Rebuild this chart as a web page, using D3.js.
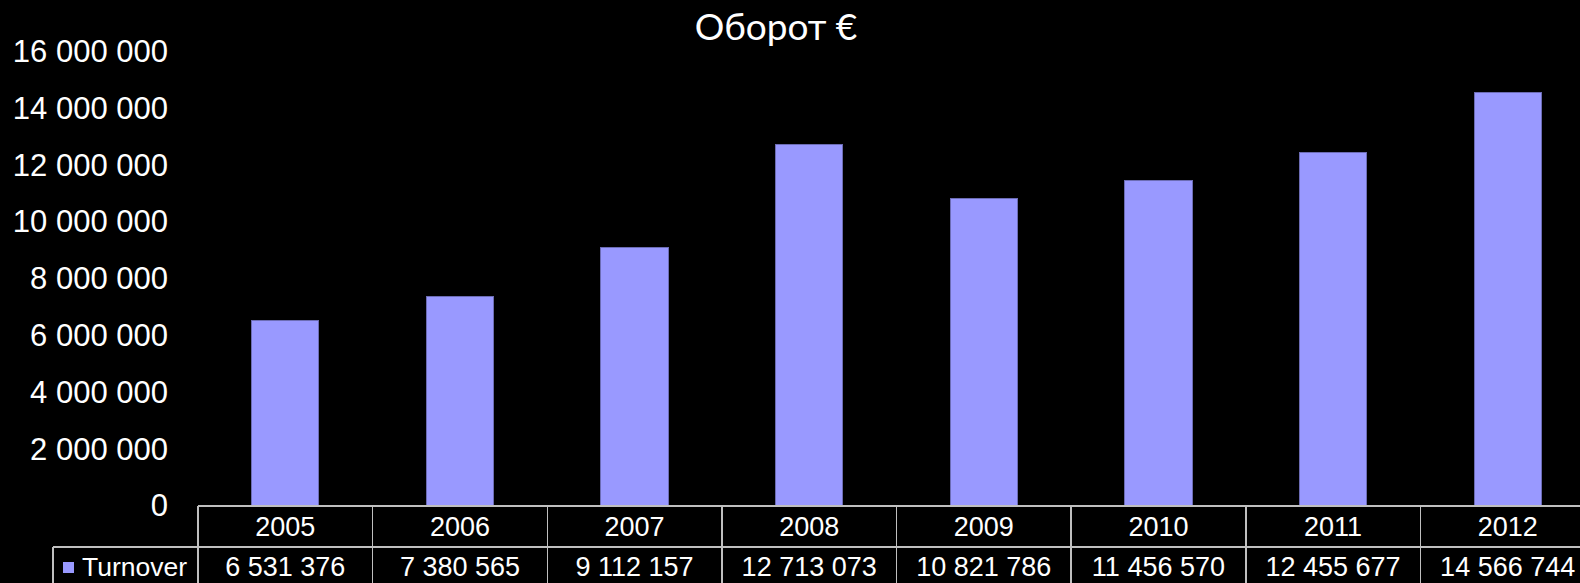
<!DOCTYPE html>
<html>
<head>
<meta charset="utf-8">
<script src="https://cdn.jsdelivr.net/npm/d3@7"></script>
<style>
  html, body { margin: 0; padding: 0; background: #000; overflow: hidden; }
</style>
</head>
<body>
<div id="chart"></div>
<script>
// data
let years = ["2005", "2006", "2007", "2008", "2009", "2010", "2011", "2012"];
let turnover = [6531376, 7380565, 9112157, 12713073, 10821786, 11456570, 12455677, 14566744];
let yTicks = [0, 2000000, 4000000, 6000000, 8000000, 10000000, 12000000, 14000000, 16000000];
let seriesName = "Turnover";
let title = "Оборот €";

let w = 1580;
let h = 583;
let left = 198;
let right = 1595;
let baseY = 506;
let topY = 51.6;
let rowY = 547;
let barColor = "#9999ff";
let lineColor = "#bfbfbf";

let ru = d3.formatLocale({decimal: ",", thousands: " ", grouping: [3], currency: ["", " €"]});
let fmt = ru.format(",d");

let svg = d3.select("#chart").append("svg")
    .attr("width", w)
    .attr("height", h)
    .style("background-color", "#000");

let x = d3.scaleBand()
    .domain(years)
    .range([left, right])
    .paddingInner(0.615)
    .paddingOuter(0.615 / 2);

let y = d3.scaleLinear()
    .domain([0, 16000000])
    .range([baseY, topY]);

// title
svg.append("text")
    .attr("x", 776)
    .attr("y", 40)
    .attr("text-anchor", "middle")
    .attr("fill", "#fff")
    .attr("font-family", "Lato, 'Open Sans', sans-serif")
    .attr("font-size", 37)
    .text(title);

// y axis labels
let yAxis = d3.axisLeft(y)
    .tickValues(yTicks)
    .tickFormat(fmt)
    .tickSize(0)
    .tickPadding(0);
let yg = svg.append("g")
    .attr("transform", "translate(168,0)")
    .call(yAxis);
yg.select(".domain").remove();
yg.selectAll("text")
    .attr("fill", "#fff")
    .attr("font-family", "'Liberation Sans', Arial, sans-serif")
    .attr("font-size", 31)
    .attr("dy", "0.32em");

// bars
svg.append("g")
    .selectAll("rect")
    .data(turnover)
    .join("rect")
    .attr("x", (d, i) => x(years[i]))
    .attr("width", x.bandwidth())
    .attr("y", d => y(d))
    .attr("height", d => baseY - y(d))
    .attr("fill", barColor)
    .attr("stroke", "#6c6cb4")
    .attr("stroke-width", 1)
    .attr("shape-rendering", "crispEdges");

// data table grid
let step = x.step();
let grid = svg.append("g")
    .attr("stroke", lineColor)
    .attr("stroke-width", 1.5)
    .attr("shape-rendering", "crispEdges");
grid.append("line").attr("x1", left).attr("x2", right).attr("y1", baseY).attr("y2", baseY);
grid.append("line").attr("x1", 53).attr("x2", right).attr("y1", rowY).attr("y2", rowY);
grid.append("line").attr("x1", 53).attr("x2", 53).attr("y1", rowY).attr("y2", h);
grid.selectAll(".col").data(d3.range(years.length + 1))
    .join("line")
    .attr("class", "col")
    .attr("x1", i => left + i * step)
    .attr("x2", i => left + i * step)
    .attr("y1", baseY)
    .attr("y2", h);

let tableFont = "'Liberation Sans', Arial, sans-serif";

// year row
svg.append("g")
    .selectAll("text")
    .data(years)
    .join("text")
    .attr("x", d => x(d) + x.bandwidth() / 2)
    .attr("y", 535.5)
    .attr("text-anchor", "middle")
    .attr("fill", "#fff")
    .attr("font-family", tableFont)
    .attr("font-size", 27)
    .text(d => d);

// value row
svg.append("g")
    .selectAll("text")
    .data(turnover)
    .join("text")
    .attr("x", (d, i) => x(years[i]) + x.bandwidth() / 2)
    .attr("y", 576)
    .attr("text-anchor", "middle")
    .attr("fill", "#fff")
    .attr("font-family", tableFont)
    .attr("font-size", 27)
    .text(d => fmt(d));

// legend key in the table
svg.append("rect")
    .attr("x", 63)
    .attr("y", 562)
    .attr("width", 11)
    .attr("height", 11)
    .attr("fill", barColor);
svg.append("text")
    .attr("x", 82)
    .attr("y", 576)
    .attr("fill", "#fff")
    .attr("font-family", tableFont)
    .attr("font-size", 26.5)
    .text(seriesName);
</script>
</body>
</html>
